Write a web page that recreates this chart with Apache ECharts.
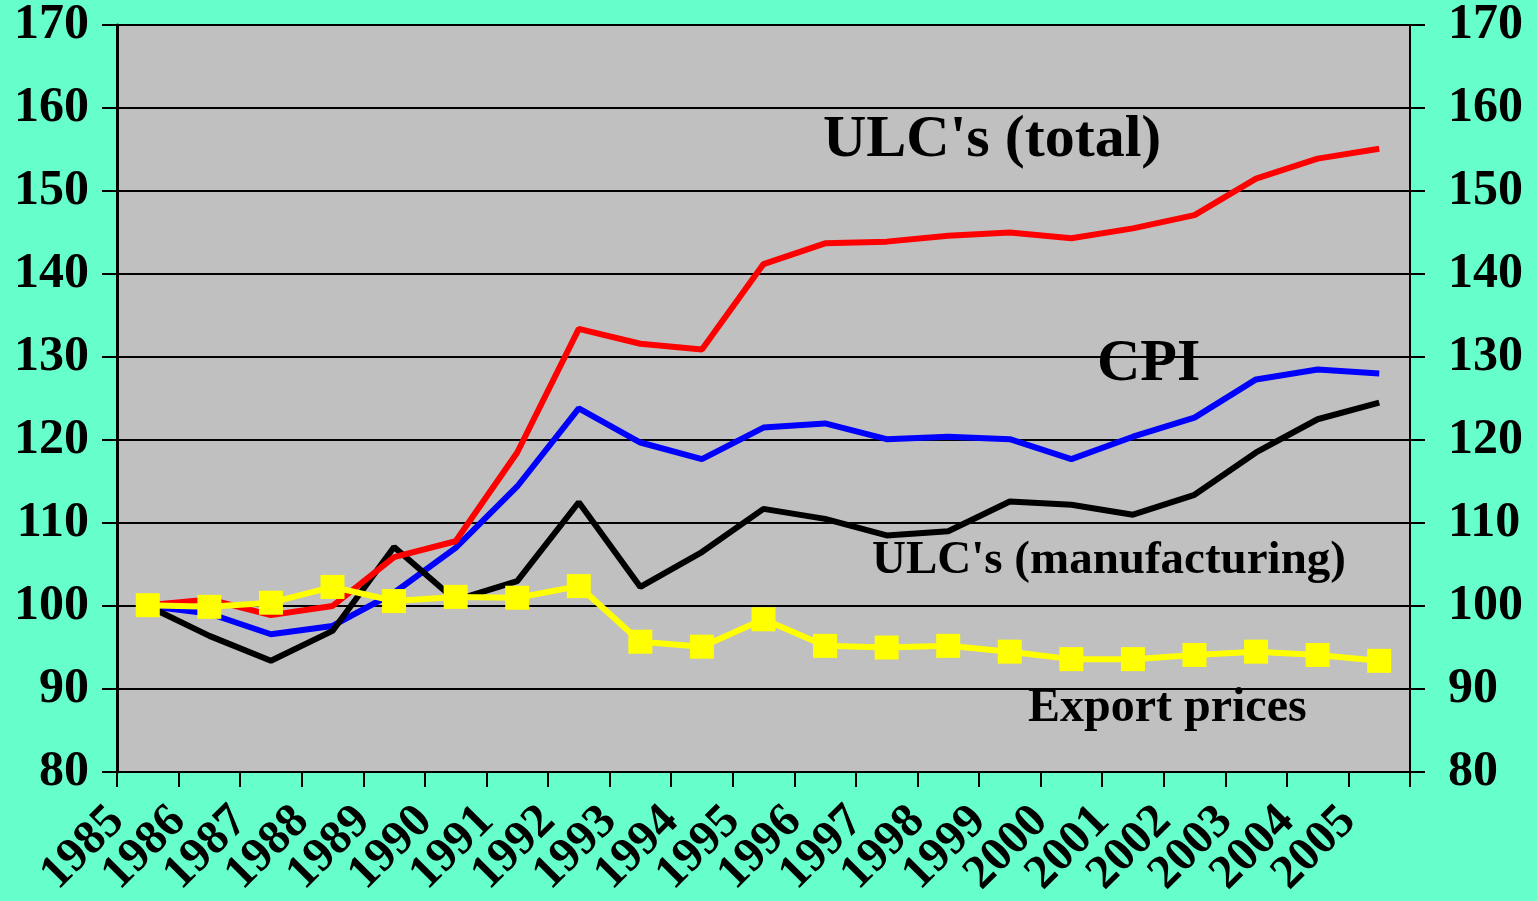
<!DOCTYPE html>
<html>
<head>
<meta charset="utf-8">
<title>ULCs, CPI and export prices</title>
<script src="https://cdn.jsdelivr.net/npm/echarts@6/dist/echarts.min.js"></script>
<style>
  html, body { margin: 0; padding: 0; background: #66FFCC; }
  #chart { width: 1537px; height: 901px; }
</style>
</head>
<body>
<div id="chart"></div>
<script>
// years on the category axis
const years = ['1985', '1986', '1987', '1988', '1989', '1990', '1991', '1992', '1993', '1994', '1995',
  '1996', '1997', '1998', '1999', '2000', '2001', '2002', '2003', '2004', '2005'];

// series values (index, 1985 = 100)
const ulcTotal = [100.1, 100.8, 98.9, 100.0, 105.9, 107.8, 118.5, 133.4, 131.6, 130.9, 141.2,
  143.7, 143.9, 144.6, 145.0, 144.3, 145.5, 147.1, 151.5, 153.9, 155.1];
const cpi = [100.0, 99.1, 96.6, 97.6, 101.6, 107.0, 114.4, 123.8, 119.7, 117.7, 121.5,
  122.0, 120.1, 120.4, 120.1, 117.7, 120.4, 122.7, 127.3, 128.5, 128.0];
const ulcManuf = [100.0, 96.4, 93.4, 97.0, 107.1, 100.7, 103.0, 112.5, 102.3, 106.5, 111.7,
  110.5, 108.5, 109.0, 112.6, 112.2, 111.0, 113.4, 118.5, 122.5, 124.5];
const exportPrices = [100.1, 99.9, 100.4, 102.3, 100.6, 101.1, 101.0, 102.4, 95.7, 95.1, 98.4,
  95.2, 95.0, 95.2, 94.5, 93.6, 93.6, 94.1, 94.5, 94.1, 93.4];

// y axis range
const yMin = 80;
const yMax = 170;
const yStep = 10;

// labels sit on the tick marks (category boundaries), one extra slot for the last boundary
const boundaryLabels = years.concat(['']);

const serif = '"Liberation Serif", "Times New Roman", serif';

const chart = echarts.init(document.getElementById('chart'));

chart.setOption({
  animation: false,
  backgroundColor: '#66FFCC',
  grid: {
    left: 117,
    right: 127,
    top: 24,
    bottom: 127,
    show: true,
    backgroundColor: '#C0C0C0',
    borderColor: '#808080',
    borderWidth: 2
  },
  xAxis: [
    {
      type: 'category',
      data: years,
      boundaryGap: true,
      axisLine: { lineStyle: { color: '#000', width: 2 } },
      axisTick: { show: true, length: 15, lineStyle: { color: '#000', width: 2 } },
      axisLabel: { show: false },
      splitLine: { show: false }
    },
    {
      // label-only axis so the year text lines up with the tick marks
      type: 'category',
      data: boundaryLabels,
      boundaryGap: false,
      position: 'bottom',
      axisLine: { show: false },
      axisTick: { show: false },
      axisLabel: {
        interval: 0,
        rotate: 45,
        margin: 42,
        color: '#000',
        fontFamily: serif,
        fontWeight: 'bold',
        fontSize: 48
      }
    }
  ],
  yAxis: [
    {
      type: 'value',
      min: yMin,
      max: yMax,
      interval: yStep,
      position: 'left',
      axisLine: { show: true, lineStyle: { color: '#000', width: 3 } },
      axisTick: { show: true, length: 15, lineStyle: { color: '#000', width: 2 } },
      axisLabel: {
        margin: 28,
        color: '#000',
        fontFamily: serif,
        fontWeight: 'bold',
        fontSize: 50
      },
      splitLine: { show: true, lineStyle: { color: '#000', width: 2 } }
    },
    {
      type: 'value',
      min: yMin,
      max: yMax,
      interval: yStep,
      position: 'right',
      axisLine: { show: true, lineStyle: { color: '#000', width: 2 } },
      axisTick: { show: true, length: 15, lineStyle: { color: '#000', width: 2 } },
      axisLabel: {
        margin: 38,
        color: '#000',
        fontFamily: serif,
        fontWeight: 'bold',
        fontSize: 50
      },
      splitLine: { show: false }
    }
  ],
  series: [
    {
      name: 'CPI',
      type: 'line',
      data: cpi,
      symbol: 'none',
      lineStyle: { color: '#0000FF', width: 6 }
    },
    {
      name: "ULC's (manufacturing)",
      type: 'line',
      data: ulcManuf,
      symbol: 'none',
      lineStyle: { color: '#000000', width: 6 }
    },
    {
      name: "ULC's (total)",
      type: 'line',
      data: ulcTotal,
      symbol: 'none',
      lineStyle: { color: '#FF0000', width: 6 }
    },
    {
      name: 'Export prices',
      type: 'line',
      data: exportPrices,
      symbol: 'rect',
      symbolSize: 24,
      itemStyle: { color: '#FFFF00' },
      lineStyle: { color: '#FFFF00', width: 6 }
    }
  ],
  graphic: [
    {
      type: 'text', left: 823, top: 110,
      style: { text: "ULC's (total)", font: 'bold 60px ' + serif, fill: '#000' }
    },
    {
      type: 'text', left: 1097, top: 334,
      style: { text: 'CPI', font: 'bold 60px ' + serif, fill: '#000' }
    },
    {
      type: 'text', left: 872, top: 537,
      style: { text: "ULC's (manufacturing)", font: 'bold 47px ' + serif, fill: '#000' }
    },
    {
      type: 'text', left: 1028, top: 685,
      style: { text: 'Export prices', font: 'bold 48px ' + serif, fill: '#000' }
    }
  ]
});
</script>
</body>
</html>
